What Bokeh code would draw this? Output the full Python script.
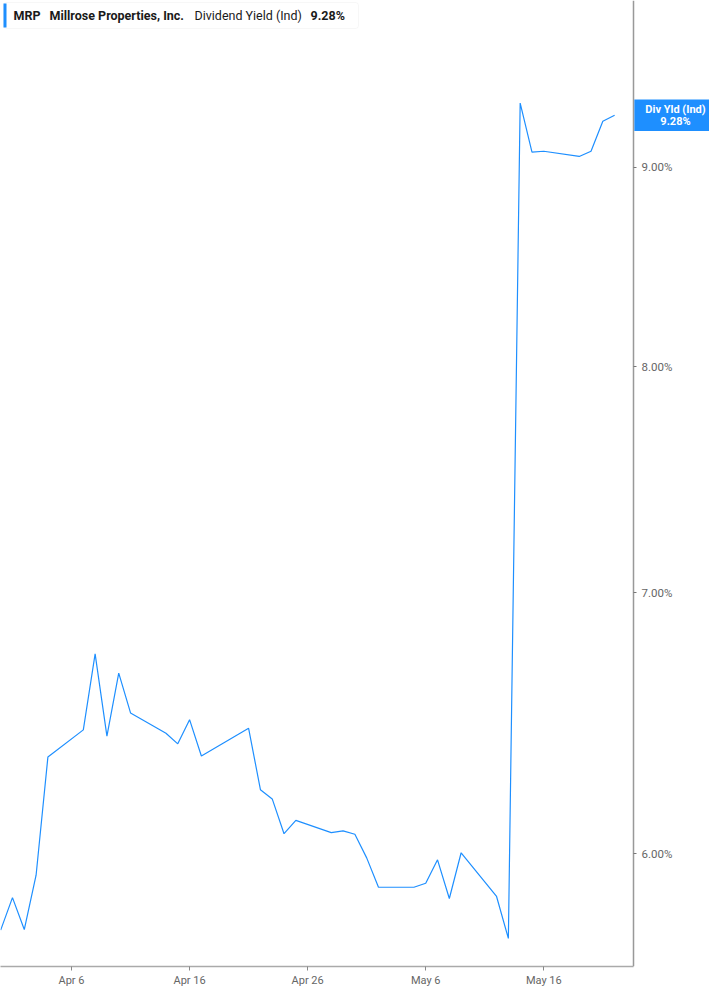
from datetime import datetime, timedelta
from bokeh.plotting import figure
from bokeh.models import (Range1d, FixedTicker, PrintfTickFormatter, Label, BoxAnnotation)
from bokeh.embed import file_html
from bokeh.resources import INLINE

# ---- data ----
dates = ["2025-03-31", "2025-04-01", "2025-04-02", "2025-04-03", "2025-04-04",
         "2025-04-07", "2025-04-08", "2025-04-09", "2025-04-10", "2025-04-11",
         "2025-04-14", "2025-04-15", "2025-04-16", "2025-04-17",
         "2025-04-21", "2025-04-22", "2025-04-23", "2025-04-24", "2025-04-25",
         "2025-04-28", "2025-04-29", "2025-04-30", "2025-05-01", "2025-05-02",
         "2025-05-05", "2025-05-06", "2025-05-07", "2025-05-08", "2025-05-09",
         "2025-05-12", "2025-05-13", "2025-05-14", "2025-05-15", "2025-05-16",
         "2025-05-19", "2025-05-20", "2025-05-21", "2025-05-22"]
div_yield = [5.735, 5.846, 5.737, 5.924, 6.352,
             6.455, 6.751, 6.431, 6.675, 6.520,
             6.442, 6.402, 6.494, 6.356,
             6.461, 6.231, 6.197, 6.071, 6.119,
             6.075, 6.081, 6.069, 5.985, 5.882,
             5.882, 5.896, 5.978, 5.843, 6.003,
             5.850, 5.707, 9.347, 9.080, 9.085,
             9.057, 9.085, 9.247, 9.28]
x_tick_dates = ["2025-04-06", "2025-04-16", "2025-04-26", "2025-05-06", "2025-05-16"]
x_tick_labels = ["Apr 6", "Apr 16", "Apr 26", "May 6", "May 16"]
y_ticks = [6, 7, 8, 9]
ticker_sym = "MRP"
company = "Millrose Properties, Inc."
metric = "Dividend Yield (Ind)"
tag_title = "Div Yld (Ind)"
last_label = "9.28%"

BLUE = "#1e8fff"
FONT = "Roboto"

xs = [datetime.strptime(d, "%Y-%m-%d") for d in dates]
epoch = datetime(1970, 1, 1)
def ms(d):
    return (d - epoch).total_seconds() * 1000.0

W, H = 709, 989
AXIS_X = 633          # pixel position of the value axis
FH = 968              # frame height
PX_PER_DAY = 11.807
x_start = xs[0] - timedelta(days=0.014)
x_end = x_start + timedelta(days=W / PX_PER_DAY)
x_axis_pos = x_start + timedelta(days=AXIS_X / PX_PER_DAY)

p = figure(width=W, height=H, x_axis_type="datetime", y_axis_type="log",
           y_axis_location="right", output_backend="svg", toolbar_location=None,
           x_range=Range1d(ms(x_start), ms(x_end)), y_range=Range1d(5.613, 9.931),
           min_border_left=0, min_border_top=0, min_border_right=0,
           min_border_bottom=H - FH)
p.outline_line_color = None
p.xgrid.visible = False
p.ygrid.visible = False
p.background_fill_color = "white"
p.border_fill_color = "white"

p.line(xs, div_yield, line_color=BLUE, line_width=1.2)

# x axis
xa = p.xaxis[0]
tick_ms = [ms(datetime.strptime(d, "%Y-%m-%d")) for d in x_tick_dates]
xa.ticker = FixedTicker(ticks=tick_ms)
xa.major_label_overrides = {t: l for t, l in zip(tick_ms, x_tick_labels)}
xa.bounds = (ms(x_start), ms(x_axis_pos))
xa.axis_line_color = "#aaaaaa"
xa.axis_line_width = 1.5
xa.major_tick_line_color = "#888888"
xa.major_tick_out = 4
xa.major_tick_in = 0
xa.minor_tick_line_color = None
xa.major_label_text_color = "#666666"
xa.major_label_text_font = FONT
xa.major_label_text_font_size = "11px"
xa.major_label_standoff = 3

# y axis (value axis drawn at a fixed x position)
ya = p.yaxis[0]
ya.fixed_location = ms(x_axis_pos)
ya.ticker = FixedTicker(ticks=y_ticks)
ya.formatter = PrintfTickFormatter(format="%.2f%%")
ya.axis_line_color = "#999999"
ya.axis_line_width = 1.5
ya.major_tick_line_color = "#777777"
ya.major_tick_out = 3
ya.major_tick_in = 0
ya.minor_tick_line_color = None
ya.major_label_text_color = "#666666"
ya.major_label_text_font = FONT
ya.major_label_text_font_size = "11.5px"
ya.major_label_standoff = 5

# last value tag on the right axis
p.add_layout(Label(x=675, y=div_yield[-1], x_units="screen", y_units="data",
                   text=tag_title + "\n" + last_label, text_align="center",
                   text_baseline="middle", text_color="white", text_font=FONT,
                   text_font_style="bold", text_font_size="11px", text_line_height=0.95,
                   background_fill_color=BLUE,
                   padding=dict(left=11, right=11, top=3, bottom=3)))

# header box
p.add_layout(BoxAnnotation(left=3, right=358, bottom=FH - 30, top=FH - 4, left_units="screen",
                           right_units="screen", bottom_units="screen", top_units="screen",
                           fill_color="white", fill_alpha=1.0, line_color="#e4e4e4",
                           line_width=1, border_radius=3))
p.add_layout(BoxAnnotation(left=3, right=6, bottom=FH - 29, top=FH - 5, left_units="screen",
                           right_units="screen", bottom_units="screen", top_units="screen",
                           fill_color=BLUE, fill_alpha=1.0, line_color=None))
hy = FH - 17
for xpos, txt, style in [(13, ticker_sym, "bold"), (49, company, "bold"),
                         (194, metric, "normal"), (310, last_label, "bold")]:
    p.add_layout(Label(x=xpos, y=hy, x_units="screen", y_units="screen", text=txt,
                       text_align="left", text_baseline="middle", text_color="#1a1a1a",
                       text_font=FONT, text_font_style=style, text_font_size="12.5px"))

open("out.html", "w").write(file_html(p, INLINE))
